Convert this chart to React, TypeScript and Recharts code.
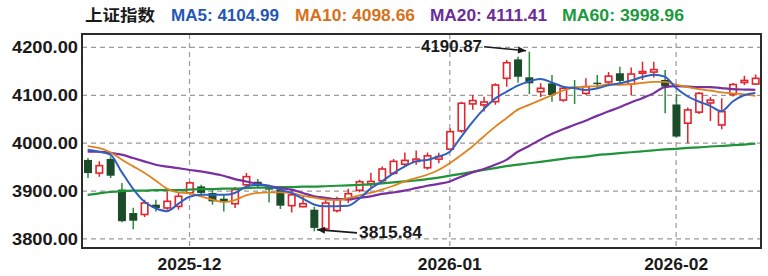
import React from "react";
import {
  ComposedChart,
  Bar,
  Line,
  XAxis,
  YAxis,
  CartesianGrid,
  ReferenceArea,
  ReferenceDot,
} from "recharts";

const dates = [
  "2025-11-18", "2025-11-19", "2025-11-20", "2025-11-21", "2025-11-24", "2025-11-25", "2025-11-26", "2025-11-27", "2025-11-28",
  "2025-12-01", "2025-12-02", "2025-12-03", "2025-12-04", "2025-12-05", "2025-12-08", "2025-12-09", "2025-12-10", "2025-12-11",
  "2025-12-12", "2025-12-15", "2025-12-16", "2025-12-17", "2025-12-18", "2025-12-19", "2025-12-22", "2025-12-23", "2025-12-24",
  "2025-12-25", "2025-12-26", "2025-12-29", "2025-12-30", "2025-12-31",
  "2026-01-05", "2026-01-06", "2026-01-07", "2026-01-08", "2026-01-09", "2026-01-12", "2026-01-13", "2026-01-14", "2026-01-15",
  "2026-01-16", "2026-01-19", "2026-01-20", "2026-01-21", "2026-01-22", "2026-01-23", "2026-01-26", "2026-01-27", "2026-01-28",
  "2026-01-29", "2026-01-30",
  "2026-02-02", "2026-02-03", "2026-02-04", "2026-02-05", "2026-02-06", "2026-02-09", "2026-02-10", "2026-02-11",
];

const opens = [
  3965, 3937.5, 3967, 3903, 3854, 3851, 3871.5, 3864.6, 3868, 3896, 3909.6, 3896, 3884, 3873.5, 3913, 3919.4, 3909, 3903,
  3869.4, 3867.3, 3861, 3821, 3859, 3882, 3901.7, 3915, 3921.5, 3937, 3956, 3961.7, 3948.5, 3966.7, 3987.5, 4025.6, 4082,
  4079.8, 4086.7, 4135.4, 4175, 4137.5, 4107.5, 4125, 4090, 4118, 4104, 4126.3, 4127.7, 4146, 4123.5, 4146, 4148.5, 4132,
  4080.8, 4041.7, 4064.8, 4084, 4038, 4101.7, 4126.7, 4123.5,
];
const highs = [
  3969, 3962, 3972, 3917, 3865, 3882, 3882, 3899, 3896, 3920, 3913, 3903, 3892, 3908.5, 3937.5, 3925, 3913, 3907, 3903,
  3890, 3867, 3882, 3888, 3905, 3923.5, 3938, 3951, 3967, 3980.4, 3984.6, 3980.4, 3980, 4031, 4086.7, 4100.6, 4097, 4125,
  4173.5, 4180.4, 4190.87, 4125, 4142.3, 4119.4, 4132, 4135.4, 4142.3, 4148.5, 4159.6, 4158, 4170, 4170, 4152.7, 4102.7,
  4074.6, 4106.9, 4096.5, 4093.7, 4125.6, 4141, 4143.3,
];
const lows = [
  3927, 3930, 3927, 3835, 3820, 3846, 3857.5, 3861, 3861, 3892, 3889, 3871.5, 3857.5, 3864.6, 3906, 3907, 3876, 3862.5,
  3855, 3866, 3815.84, 3818, 3855, 3875, 3897.5, 3907, 3917, 3934, 3950, 3955, 3944.4, 3958, 3986, 4021.5, 4069.6, 4066,
  4080, 4118, 4126, 4102.7, 4096.5, 4086.7, 4086.7, 4082, 4100.6, 4113, 4121.5, 4121.5, 4100.6, 4132, 4137, 4062.5, 4012,
  4000, 4061, 4046.5, 4028.8, 4097.5, 4121.5, 4121.5,
];
const closes = [
  3937.5, 3953, 3932, 3837, 3838, 3875, 3864.6, 3878.5, 3889, 3917, 3896, 3878.5, 3878.5, 3903, 3930, 3911, 3903, 3869.4,
  3892, 3873.5, 3823, 3875, 3883, 3894.4, 3919.4, 3920, 3946, 3962, 3964, 3966.7, 3973.5, 3972, 4024, 4083.3, 4089, 4086,
  4121.5, 4168, 4138.7, 4125, 4114.6, 4100.6, 4114.6, 4115, 4118, 4123.5, 4140, 4130, 4144.4, 4149.6, 4153.7, 4118.3,
  4013.8, 4069.4, 4104, 4090, 4065.8, 4122.5, 4131, 4135.4,
];

const ma5 = [
  3986, 3982, 3976, 3940, 3905, 3878, 3864, 3858, 3873, 3888, 3892, 3892, 3892, 3896, 3909, 3913, 3910, 3903, 3896, 3884,
  3872, 3868, 3868, 3869, 3884, 3905, 3920, 3937, 3951, 3962, 3965, 3972, 3982, 4013, 4044, 4071, 4093, 4107, 4120, 4129,
  4134, 4127, 4118, 4115, 4111, 4114, 4121, 4125, 4131, 4138, 4143, 4139, 4115, 4098, 4087, 4078, 4067, 4087, 4100, 4104.99,
];
const ma10 = [
  3994, 3990, 3981, 3966, 3952, 3938, 3922, 3905, 3897, 3895, 3889, 3882, 3877, 3881, 3891, 3896, 3897, 3897, 3896, 3890,
  3886, 3882, 3881, 3885, 3891, 3896, 3903, 3911, 3920, 3927, 3934, 3944, 3958, 3975, 3993, 4014, 4034, 4052, 4070, 4080,
  4090, 4100, 4110, 4116, 4118, 4119, 4123, 4122, 4123, 4126, 4128, 4128, 4122, 4117, 4113, 4110, 4106, 4104, 4102, 4098.66,
];
const ma20 = [
  3982.5, 3982, 3980, 3976, 3969, 3962, 3955, 3951, 3948, 3944, 3941, 3937, 3932, 3925, 3920, 3915, 3911, 3906, 3903, 3896,
  3889, 3886, 3883, 3883, 3886, 3889, 3894, 3897, 3901, 3906, 3911, 3915, 3920, 3930, 3939, 3946, 3955, 3965, 3982, 3994,
  4007, 4019, 4029, 4038, 4047, 4057, 4066, 4075, 4085, 4094, 4104, 4117, 4119, 4118, 4117, 4117, 4115, 4113, 4112, 4111.41,
];
const ma60 = [
  3892, 3895, 3898, 3900, 3901, 3901, 3902, 3902, 3902, 3903, 3904, 3904, 3905, 3905, 3906, 3907, 3907, 3908, 3908, 3909,
  3909, 3910, 3911, 3912, 3913, 3914, 3916, 3918, 3920, 3922, 3925, 3928, 3932, 3936, 3940, 3944, 3948, 3952, 3955, 3958,
  3961, 3964, 3967, 3970, 3972, 3975, 3977, 3979, 3981, 3983, 3985, 3987, 3988, 3990, 3991, 3993, 3994, 3996, 3997, 3998.96,
];

const monthTicks = ["2025-12-01", "2026-01-05", "2026-02-02"];
const monthLabels = ["2025-12", "2026-01", "2026-02"];
const priceTicks = [3800, 3900, 4000, 4100, 4200];
const yDomain: [number, number] = [3781, 4228];

const FONT = '"Liberation Sans", Arial, "Noto Sans CJK SC", sans-serif';
const RED = "#e5232b";
const GREEN_BODY = "#1b4d2b";
const GREEN_WICK = "#2a8a3c";

const rows = dates.map((date, i) => ({
  date,
  open: opens[i],
  high: highs[i],
  low: lows[i],
  close: closes[i],
  ma5: ma5[i],
  ma10: ma10[i],
  ma20: ma20[i],
  ma60: ma60[i],
}));

const hiIdx = highs.indexOf(Math.max(...highs));
const loIdx = lows.indexOf(Math.min(...lows));

function Candle(props: any) {
  const { x, y, width, height, payload } = props;
  if (!payload) return null;
  const { open, high, low, close } = payload;
  const top = Math.min(y, y + height);
  const h = Math.abs(height);
  const k = high === low ? 0 : h / (high - low);
  const py = (v: number) => top + (high - v) * k;
  const cx = x + width / 2;
  const up = close >= open;
  const bTop = py(Math.max(open, close));
  const bh = Math.max(py(Math.min(open, close)) - bTop, 1.5);
  if (up) {
    return (
      <g>
        <line x1={cx} x2={cx} y1={top} y2={top + h} stroke={RED} strokeWidth={1.5} />
        <rect x={x + 0.75} y={bTop} width={width - 1.5} height={bh} fill="#fff" stroke={RED} strokeWidth={1.6} />
      </g>
    );
  }
  return (
    <g>
      <line x1={cx} x2={cx} y1={top} y2={top + h} stroke={GREEN_WICK} strokeWidth={1.5} />
      <rect x={x} y={bTop} width={width} height={bh} fill={GREEN_BODY} />
    </g>
  );
}

function arrowHead(x1: number, y1: number, x2: number, y2: number) {
  const len = Math.hypot(x2 - x1, y2 - y1);
  const dx = (x2 - x1) / len;
  const dy = (y2 - y1) / len;
  const bx = x2 - dx * 8;
  const by = y2 - dy * 8;
  return `${x2},${y2} ${bx - dy * 3.5},${by + dx * 3.5} ${bx + dy * 3.5},${by - dx * 3.5}`;
}

function HighMark(props: any) {
  const { cx, cy } = props;
  const x1 = cx - 45;
  const y1 = cy - 5;
  const x2 = cx - 3;
  const y2 = cy - 1;
  return (
    <g>
      <line x1={x1} y1={y1} x2={x2} y2={y2} stroke="#1a1a1a" strokeWidth={1.6} />
      <polygon points={arrowHead(x1, y1, x2, y2)} fill="#1a1a1a" />
      <text x={cx - 108} y={cy + 0.5} fontFamily={FONT} fontSize={17} fontWeight="bold" fill="#1a1a1a"
        textLength={61} lengthAdjust="spacingAndGlyphs">
        {highs[hiIdx].toFixed(2)}
      </text>
    </g>
  );
}

function LowMark(props: any) {
  const { cx, cy } = props;
  const x1 = cx + 43;
  const y1 = cy + 1.6;
  const x2 = cx + 3;
  const y2 = cy - 1.7;
  return (
    <g>
      <line x1={x1} y1={y1} x2={x2} y2={y2} stroke="#1a1a1a" strokeWidth={1.6} />
      <polygon points={arrowHead(x1, y1, x2, y2)} fill="#1a1a1a" />
      <text x={cx + 45} y={cy + 7} fontFamily={FONT} fontSize={17} fontWeight="bold" fill="#1a1a1a"
        textLength={63} lengthAdjust="spacingAndGlyphs">
        {lows[loIdx].toFixed(2)}
      </text>
    </g>
  );
}

function YTick(props: any) {
  const { x, y, payload } = props;
  return (
    <text x={x - 70} y={y + 6} fontFamily={FONT} fontSize={17} fontWeight="bold" fill="#1a1a1a"
      textLength={66} lengthAdjust="spacingAndGlyphs">
      {Number(payload.value).toFixed(2)}
    </text>
  );
}

function XTick(props: any) {
  const { x, y, payload } = props;
  const label = monthLabels[monthTicks.indexOf(payload.value)] ?? payload.value;
  return (
    <text x={x - 32} y={y + 22} fontFamily={FONT} fontSize={17} fontWeight="bold" fill="#1a1a1a"
      textLength={64} lengthAdjust="spacingAndGlyphs">
      {label}
    </text>
  );
}

const legendItems = [
  { text: "上证指数", color: "#1a1a1a", x: 85, w: 70 },
  { text: `MA5: ${ma5[ma5.length - 1].toFixed(2)}`, color: "#2456b6", x: 171, w: 108 },
  { text: `MA10: ${ma10[ma10.length - 1].toFixed(2)}`, color: "#d8701a", x: 295, w: 120 },
  { text: `MA20: ${ma20[ma20.length - 1].toFixed(2)}`, color: "#6b2c99", x: 430, w: 117 },
  { text: `MA60: ${ma60[ma60.length - 1].toFixed(2)}`, color: "#1b9a3c", x: 562, w: 122 },
];

export default function App() {
  return (
    <div style={{ position: "absolute", left: 0, top: 0, width: 768, height: 276, background: "#fff" }}>
      <ComposedChart width={768} height={276} data={rows} margin={{ top: 34, right: 7, bottom: 0, left: 0 }}>
        <CartesianGrid stroke="#9a9a9a" strokeDasharray="5 4" strokeWidth={1.2} />
        <XAxis
          dataKey="date"
          ticks={monthTicks}
          interval={0}
          height={28}
          tickLine={false}
          axisLine={false}
          tickSize={0}
          tickMargin={0}
          tick={<XTick />}
        />
        <YAxis
          domain={yDomain}
          ticks={priceTicks}
          width={82}
          tickLine={false}
          axisLine={false}
          tickSize={0}
          tickMargin={0}
          tick={<YTick />}
          allowDataOverflow
        />
        <Bar dataKey={(d: any) => [d.low, d.high]} barSize={8} shape={<Candle />} isAnimationActive={false} />
        <Line type="monotone" dataKey="ma60" stroke="#1f9438" strokeWidth={2.2} dot={false} activeDot={false} isAnimationActive={false} />
        <Line type="monotone" dataKey="ma20" stroke="#7a2fa0" strokeWidth={2.2} dot={false} activeDot={false} isAnimationActive={false} />
        <Line type="monotone" dataKey="ma10" stroke="#e0821e" strokeWidth={1.8} dot={false} activeDot={false} isAnimationActive={false} />
        <Line type="monotone" dataKey="ma5" stroke="#2f5fc0" strokeWidth={2} dot={false} activeDot={false} isAnimationActive={false} />
        <ReferenceDot x={dates[hiIdx]} y={highs[hiIdx]} shape={<HighMark />} />
        <ReferenceDot x={dates[loIdx]} y={lows[loIdx]} shape={<LowMark />} />
        <ReferenceArea y1={yDomain[0]} y2={yDomain[1]} fill="none" stroke="#2b2b2b" strokeWidth={2} />
      </ComposedChart>
      <svg width={768} height={30} style={{ position: "absolute", left: 0, top: 0, pointerEvents: "none" }}>
        {legendItems.map((it) => (
          <text key={it.text} x={it.x} y={20.5} fontFamily={FONT} fontSize={16} fontWeight="bold" fill={it.color}
            textLength={it.w} lengthAdjust="spacingAndGlyphs">
            {it.text}
          </text>
        ))}
      </svg>
    </div>
  );
}
